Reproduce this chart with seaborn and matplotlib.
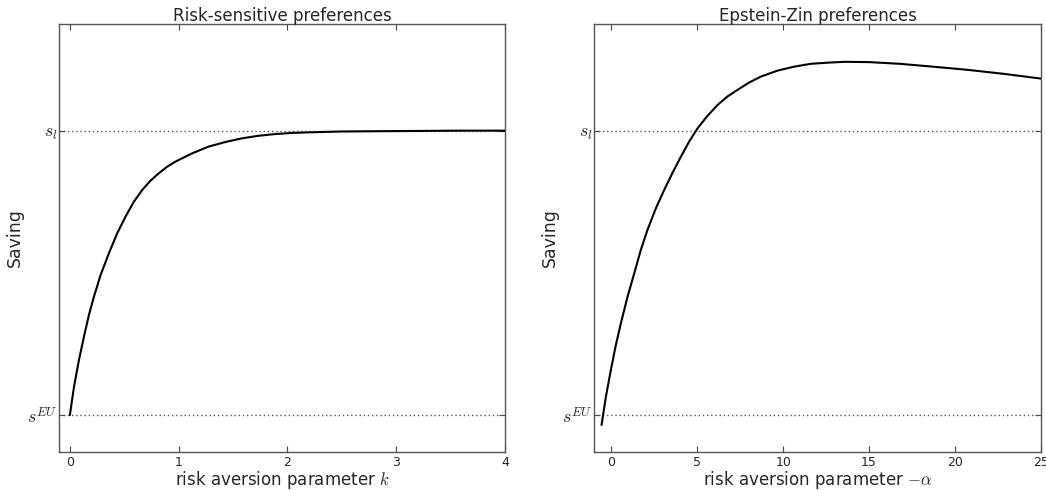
import numpy as np
import pandas as pd
import matplotlib
matplotlib.use("Agg")
import matplotlib.pyplot as plt
import seaborn as sns

# Left panel: risk-sensitive preferences (k vs saving, s_EU=0, s_l=1)
k_vals = [0.0, 0.038, 0.083, 0.129, 0.175, 0.221, 0.282, 0.359, 0.435, 0.512,
          0.588, 0.664, 0.741, 0.817, 0.894, 0.970, 1.123, 1.276, 1.429, 1.582,
          1.735, 1.888, 2.040, 2.193, 2.5, 2.8, 3.2, 3.6, 4.0]
k_saving = [0.0, 0.0996, 0.193, 0.275, 0.352, 0.416, 0.492, 0.569, 0.639, 0.698,
            0.750, 0.791, 0.824, 0.850, 0.873, 0.891, 0.920, 0.944, 0.960, 0.973,
            0.982, 0.988, 0.992, 0.994, 0.997, 0.998, 0.999, 1.0, 1.0]

# Right panel: Epstein-Zin preferences (-alpha vs saving)
a_vals = [-0.56, -0.31, -0.02, 0.27, 0.56, 0.95, 1.34, 1.72, 2.11, 2.60,
          3.08, 3.57, 4.05, 4.53, 5.02, 5.60, 6.18, 6.76, 7.34, 8.02,
          8.70, 9.67, 10.64, 11.61, 12.58, 13.55, 15.0, 16.8, 18.7, 20.7,
          22.8, 25.0]
a_saving = [-0.035, 0.064, 0.158, 0.246, 0.322, 0.416, 0.498, 0.580, 0.651, 0.727,
            0.791, 0.852, 0.908, 0.961, 1.008, 1.052, 1.090, 1.120, 1.143, 1.169,
            1.190, 1.211, 1.225, 1.235, 1.239, 1.242, 1.241, 1.235, 1.225, 1.214,
            1.200, 1.183]

ref_levels = [0.0, 1.0]
ref_labels = [r"$s^{EU}$", r"$s_l$"]

titles = ["Risk-sensitive preferences", "Epstein-Zin preferences"]
xlabels = [r"risk aversion parameter $k$", r"risk aversion parameter $-\alpha$"]
xticks = [[0, 1, 2, 3, 4], [0, 5, 10, 15, 20, 25]]
xlims = [(-0.1, 4.0), (-1.0, 25.0)]
ylim = (-0.130, 1.375)

sns.set_theme(style="white")
plt.rcParams["font.family"] = ["DejaVu Sans"]
plt.rcParams["mathtext.fontset"] = "cm"

fig = plt.figure(figsize=(10.46, 4.90), dpi=100)
W, H = 1046, 490
ax1 = fig.add_axes([59 / W, (H - 452) / H, 446 / W, 428 / H])
ax2 = fig.add_axes([594 / W, (H - 452) / H, 447 / W, 428 / H])

df1 = pd.DataFrame({"x": k_vals, "y": k_saving})
df2 = pd.DataFrame({"x": a_vals, "y": a_saving})

for ax, df, title, xl, xt, xlim in zip([ax1, ax2], [df1, df2], titles, xlabels, xticks, xlims):
    for lvl in ref_levels:
        ax.axhline(lvl, color="#555555", linestyle=(0, (1, 2)), linewidth=1.0, zorder=1)
    sns.lineplot(data=df, x="x", y="y", ax=ax, color="black", linewidth=1.5, zorder=3)
    ax.set_xlim(*xlim)
    ax.set_ylim(*ylim)
    ax.set_xticks(xt)
    ax.set_xticklabels([str(v) for v in xt], fontsize=9)
    ax.set_yticks(ref_levels)
    ax.set_yticklabels(ref_labels, fontsize=13)
    ax.tick_params(direction="in", length=4, width=0.8, top=True, right=True,
                   bottom=True, left=True, color="#444444")
    ax.tick_params(axis="x", pad=3)
    ax.tick_params(axis="y", pad=1)
    ax.set_title(title, fontsize=12, pad=2.5)
    ax.set_xlabel(xl, fontsize=12, labelpad=0)
    ax.set_ylabel("Saving", fontsize=12.5, labelpad=2.5)
    for sp in ax.spines.values():
        sp.set_color("#555555")
        sp.set_linewidth(1.0)

fig.savefig("out.png", dpi=100)
